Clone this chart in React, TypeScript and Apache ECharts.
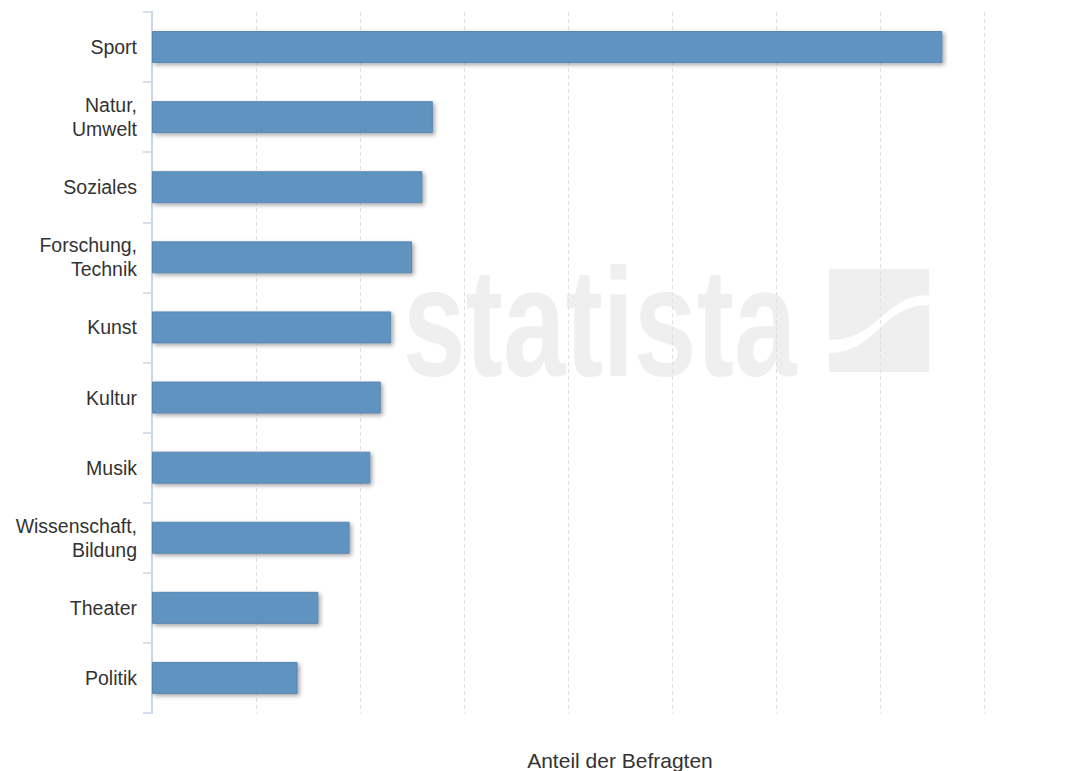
import React, { useEffect, useRef } from "react";
import * as echarts from "echarts";

const categories = [
  "Sport",
  "Natur,\nUmwelt",
  "Soziales",
  "Forschung,\nTechnik",
  "Kunst",
  "Kultur",
  "Musik",
  "Wissenschaft,\nBildung",
  "Theater",
  "Politik",
];
const values = [76, 27, 26, 25, 23, 22, 21, 19, 16, 14];
const axisTitle = "Anteil der Befragten";
const watermarkText = "statista";

const LOGO_UPPER = "M0,0 L100,0 L100,26 C55,26 50,71 0,71 Z";
const LOGO_LOWER = "M100,36 C52,36 48,84 0,84 L0,103 L100,103 Z";

export default function App() {
  const ref = useRef<HTMLDivElement>(null);
  useEffect(() => {
    if (!ref.current) return;
    const chart = echarts.init(ref.current, undefined, { renderer: "svg" });
    let shapesOk = true;
    try {
      echarts.graphic.registerShape(
        "logoUpper",
        echarts.graphic.extendPath(LOGO_UPPER, {}) as any
      );
      echarts.graphic.registerShape(
        "logoLower",
        echarts.graphic.extendPath(LOGO_LOWER, {}) as any
      );
    } catch (e) {
      shapesOk = false;
    }
    const wmColor = "#efefef";
    const graphicEls: any[] = [
      {
        type: "group",
        z: -10,
        x: 403,
        y: 322,
        scaleX: 0.725,
        scaleY: 1,
        silent: true,
        children: [
          {
            type: "text",
            z: -10,
            x: 0,
            y: 0,
            style: {
              text: watermarkText,
              fill: wmColor,
              font: "bold 155px 'Liberation Sans', Arial, sans-serif",
              textAlign: "left",
              textVerticalAlign: "middle",
            },
            silent: true,
          },
        ],
      },
      {
        type: "text",
        z: 10,
        x: 620,
        y: 760,
        style: {
          text: axisTitle,
          fill: "#333333",
          font: "21px 'Liberation Sans', Arial, sans-serif",
          textAlign: "center",
          textVerticalAlign: "middle",
        },
        silent: true,
      },
    ];
    if (shapesOk) {
      graphicEls.push(
        { type: "logoUpper", z: -10, x: 829, y: 269, style: { fill: wmColor }, silent: true },
        { type: "logoLower", z: -10, x: 829, y: 269, style: { fill: wmColor }, silent: true }
      );
    }
    chart.setOption({
      animation: false,
      backgroundColor: "#ffffff",
      grid: { left: 152, top: 12, right: 100, bottom: 58, containLabel: false },
      xAxis: {
        type: "value",
        min: 0,
        max: 80,
        interval: 10,
        axisLabel: { show: false },
        axisLine: { show: false },
        axisTick: { show: false },
        splitLine: { show: true, lineStyle: { color: "#e0e0e0", type: [4, 3], width: 1 } },
      },
      yAxis: {
        type: "category",
        inverse: true,
        data: categories,
        axisLine: { show: true, lineStyle: { color: "#c8d6e6", width: 2 } },
        axisTick: { show: true, length: 9, lineStyle: { color: "#c8d6e6", width: 1.5 } },
        axisLabel: {
          margin: 15,
          color: "#333333",
          fontSize: 19.5,
          lineHeight: 24,
          fontFamily: "'Liberation Sans', Arial, sans-serif",
          align: "right",
          padding: [4, 0, 0, 0],
        },
      },
      series: [
        {
          type: "bar",
          data: values,
          barWidth: 32,
          itemStyle: {
            color: "#6193bf",
            borderColor: "#5a87b0",
            borderWidth: 1,
            shadowColor: "rgba(0,0,0,0.35)",
            shadowBlur: 4,
            shadowOffsetX: 2,
            shadowOffsetY: 2,
          },
          z: 3,
        },
      ],
      graphic: graphicEls,
    });
    return () => chart.dispose();
  }, []);
  return (
    <div
      ref={ref}
      style={{ position: "absolute", left: 0, top: 0, width: 1084, height: 771 }}
    />
  );
}
